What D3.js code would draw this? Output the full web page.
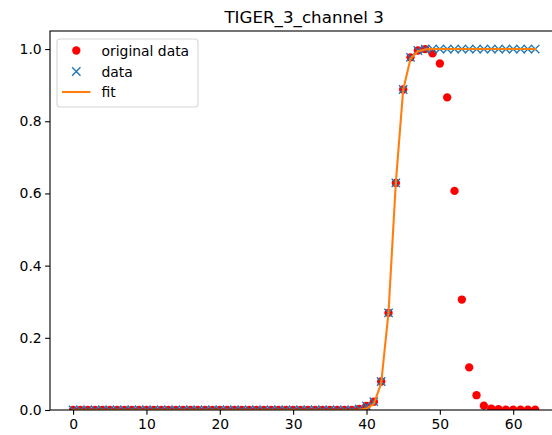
<!DOCTYPE html>
<html>
<head>
<meta charset="utf-8">
<script src="https://cdn.jsdelivr.net/npm/d3@7"></script>
<style>
  html, body { margin: 0; padding: 0; background: #fff; }
  svg { display: block; font-family: "DejaVu Sans", sans-serif; }
</style>
</head>
<body>
<div id="chart"></div>
<script>
// Channel response per sample index (0..63)
const originalData = [
  0, 0, 0, 0, 0, 0, 0, 0, 0, 0,
  0, 0, 0, 0, 0, 0, 0, 0, 0, 0,
  0, 0, 0, 0, 0, 0, 0, 0, 0, 0,
  0, 0, 0, 0, 0, 0, 0, 0, 0, 0.003,
  0.011, 0.023, 0.079, 0.269, 0.629, 0.888, 0.977, 0.996, 1.0, 0.988,
  0.96, 0.866, 0.607, 0.306, 0.118, 0.041, 0.012, 0.004, 0.002, 0.001,
  0.001, 0.001, 0.001, 0.001
];
// Same samples, held at 1 after the peak
const data = [
  0, 0, 0, 0, 0, 0, 0, 0, 0, 0,
  0, 0, 0, 0, 0, 0, 0, 0, 0, 0,
  0, 0, 0, 0, 0, 0, 0, 0, 0, 0,
  0, 0, 0, 0, 0, 0, 0, 0, 0, 0.003,
  0.011, 0.023, 0.079, 0.269, 0.629, 0.888, 0.977, 0.996, 1.0, 1.0,
  1.0, 1.0, 1.0, 1.0, 1.0, 1.0, 1.0, 1.0, 1.0, 1.0,
  1.0, 1.0, 1.0, 1.0
];
// Sigmoid fit evaluated at each sample
const fit = [
  0, 0, 0, 0, 0, 0, 0, 0, 0, 0,
  0, 0, 0, 0, 0, 0, 0, 0, 0, 0,
  0, 0, 0, 0, 0, 0, 0, 0, 0, 0,
  0, 0, 0, 0, 0, 0, 0, 0, 0.0002, 0.0009,
  0.0038, 0.017, 0.074, 0.27, 0.63, 0.887, 0.973, 0.994, 0.999, 1.0,
  1.0, 1.0, 1.0, 1.0, 1.0, 1.0, 1.0, 1.0, 1.0, 1.0,
  1.0, 1.0, 1.0, 1.0
];
const xTicks = [0, 10, 20, 30, 40, 50, 60];
const yTicks = [0.0, 0.2, 0.4, 0.6, 0.8, 1.0];
const title = "TIGER_3_channel 3";
const legendLabels = ["original data", "data", "fit"];

const W = 552, H = 435;
const mLeft = 50, mRight = 558.3, mTop = 31, mBottom = 410;

const svg = d3.select("#chart").append("svg")
  .attr("width", W).attr("height", H);

const x = d3.scaleLinear().domain([-3.15, 66.15]).range([mLeft, mRight]);
const y = d3.scaleLinear().domain([0, 1.05]).range([mBottom, mTop]);

svg.append("defs").append("clipPath").attr("id", "plotArea")
  .append("rect").attr("x", mLeft).attr("y", mTop)
  .attr("width", mRight - mLeft).attr("height", mBottom - mTop);

const plot = svg.append("g").attr("clip-path", "url(#plotArea)");

const pts = (arr) => arr.map((v, i) => [i, v]);

// red dots
plot.append("g").selectAll("circle").data(pts(originalData)).join("circle")
  .attr("cx", d => x(d[0])).attr("cy", d => y(d[1]))
  .attr("r", 4.17).attr("fill", "#ff0000");

// blue crosses
const xm = 4.17;
plot.append("g").selectAll("path").data(pts(data)).join("path")
  .attr("d", d => {
    const cx = x(d[0]), cy = y(d[1]);
    return `M${cx - xm},${cy - xm}L${cx + xm},${cy + xm}M${cx - xm},${cy + xm}L${cx + xm},${cy - xm}`;
  })
  .attr("stroke", "#1f77b4").attr("stroke-width", 1.39).attr("fill", "none");

// fit line
plot.append("path").datum(pts(fit))
  .attr("d", d3.line().x(d => x(d[0])).y(d => y(d[1])))
  .attr("fill", "none").attr("stroke", "#ff7f0e").attr("stroke-width", 2.08)
  .attr("stroke-linejoin", "round").attr("stroke-linecap", "square");

// axes
const fmtY = d3.format(".1f");
const xAxis = svg.append("g").attr("transform", `translate(0,${mBottom})`)
  .call(d3.axisBottom(x).tickValues(xTicks).tickSize(4.86).tickPadding(3.5).tickFormat(d3.format("d")));
const yAxis = svg.append("g").attr("transform", `translate(${mLeft},0)`)
  .call(d3.axisLeft(y).tickValues(yTicks).tickSize(4.86).tickPadding(3.5).tickFormat(fmtY));
[xAxis, yAxis].forEach(g => {
  g.select(".domain").remove();
  g.selectAll(".tick line").attr("stroke", "#000").attr("stroke-width", 1.1);
  g.selectAll(".tick text").attr("fill", "#000").attr("font-size", 13.9)
    .attr("font-family", "DejaVu Sans, sans-serif");
});
xAxis.selectAll(".tick text").attr("dy", "0.76em");

// spines
svg.append("rect").attr("x", mLeft).attr("y", mTop)
  .attr("width", mRight - mLeft).attr("height", mBottom - mTop)
  .attr("fill", "none").attr("stroke", "#000").attr("stroke-width", 1.1);

// title
svg.append("text").attr("x", (mLeft + mRight) / 2).attr("y", 23)
  .attr("text-anchor", "middle").attr("font-size", 16.7).attr("fill", "#000")
  .text(title);

// legend
const lg = svg.append("g");
lg.append("rect").attr("x", 57).attr("y", 39).attr("width", 141).attr("height", 68)
  .attr("rx", 3).attr("fill", "#fff").attr("fill-opacity", 0.8)
  .attr("stroke", "#d6d6d6").attr("stroke-width", 1.1);
const rowY = [50.5, 71.5, 92];
const keyX = 76.3;
lg.append("circle").attr("cx", keyX).attr("cy", rowY[0]).attr("r", 4.17).attr("fill", "#ff0000");
lg.append("path")
  .attr("d", `M${keyX - xm},${rowY[1] - xm}L${keyX + xm},${rowY[1] + xm}M${keyX - xm},${rowY[1] + xm}L${keyX + xm},${rowY[1] - xm}`)
  .attr("stroke", "#1f77b4").attr("stroke-width", 1.39);
lg.append("line").attr("x1", 62).attr("x2", 90.5).attr("y1", rowY[2]).attr("y2", rowY[2])
  .attr("stroke", "#ff7f0e").attr("stroke-width", 2.08);
lg.selectAll("text.lab").data(legendLabels).join("text").attr("class", "lab")
  .attr("x", 101.5).attr("y", (d, i) => rowY[i]).attr("dy", "0.36em")
  .attr("font-size", 13.9).attr("fill", "#000").text(d => d);
</script>
</body>
</html>
